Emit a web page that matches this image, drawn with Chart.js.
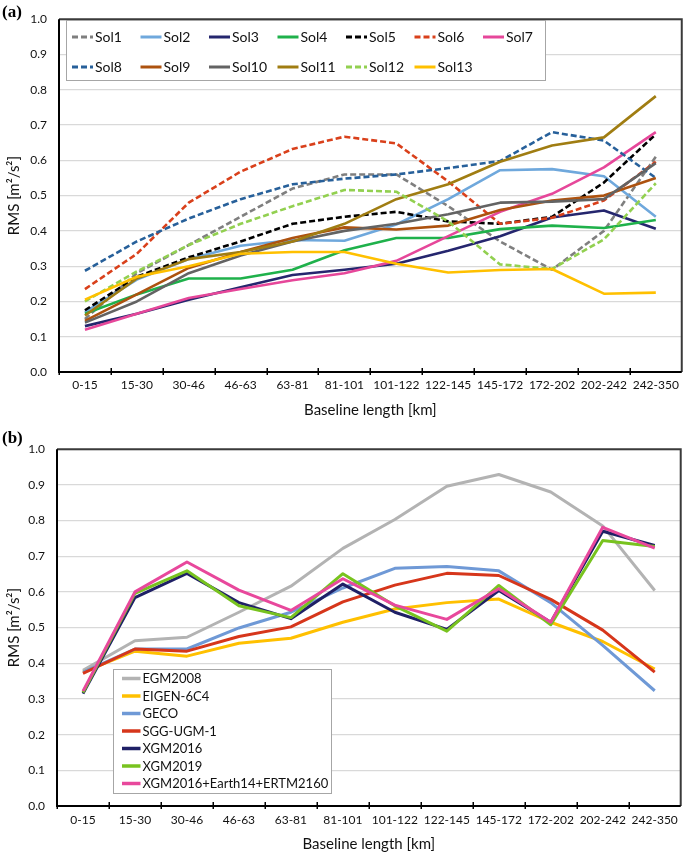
<!DOCTYPE html>
<html><head><meta charset="utf-8">
<script src="https://cdn.jsdelivr.net/npm/chart.js@4.4.1/dist/chart.umd.min.js"></script>
<style>
html,body{margin:0;padding:0;background:#fff;width:685px;height:852px;overflow:hidden;}
.wrap{position:absolute;left:0;width:685px;}
#w1{top:0;height:430px}
#w2{top:430px;height:422px}
.tag{position:absolute;font:bold 17px "Liberation Serif","Times New Roman",serif;color:#000;}
</style></head><body>
<div class="wrap" id="w1"><canvas id="c1" width="685" height="430"></canvas></div>
<div class="wrap" id="w2"><canvas id="c2" width="685" height="422"></canvas></div>
<div class="tag" style="left:2px;top:2px">(a)</div>
<div class="tag" style="left:2px;top:428px">(b)</div>
<script>
// ---- data ----
const baselineBins = ['0-15','15-30','30-46','46-63','63-81','81-101','101-122','122-145','145-172','172-202','202-242','242-350'];
const yTickValues = [0,0.1,0.2,0.3,0.4,0.5,0.6,0.7,0.8,0.9,1.0];
const xTitle = 'Baseline length [km]';
const yTitle = 'RMS [m\u00b2/s\u00b2]';

// panel (a)
const solNames = ['Sol1','Sol2','Sol3','Sol4','Sol5','Sol6','Sol7','Sol8','Sol9','Sol10','Sol11','Sol12','Sol13'];
const sol1  = [0.150, 0.280, 0.360, 0.440, 0.520, 0.560, 0.560, 0.470, 0.370, 0.290, 0.400, 0.610];
const sol2  = [0.170, 0.262, 0.320, 0.358, 0.374, 0.372, 0.418, 0.490, 0.572, 0.575, 0.555, 0.440];
const sol3  = [0.130, 0.165, 0.205, 0.240, 0.275, 0.290, 0.307, 0.344, 0.385, 0.438, 0.458, 0.406];
const sol4  = [0.165, 0.220, 0.265, 0.265, 0.290, 0.345, 0.380, 0.380, 0.405, 0.415, 0.408, 0.431];
const sol5  = [0.175, 0.270, 0.325, 0.370, 0.420, 0.440, 0.454, 0.427, 0.420, 0.440, 0.537, 0.674];
const sol6  = [0.235, 0.335, 0.480, 0.568, 0.632, 0.667, 0.648, 0.540, 0.420, 0.437, 0.486, 0.596];
const sol7  = [0.120, 0.165, 0.210, 0.235, 0.260, 0.280, 0.315, 0.385, 0.454, 0.505, 0.580, 0.680];
const sol8  = [0.287, 0.370, 0.435, 0.490, 0.532, 0.548, 0.560, 0.578, 0.598, 0.680, 0.656, 0.550];
const sol9  = [0.145, 0.220, 0.295, 0.340, 0.380, 0.410, 0.404, 0.415, 0.459, 0.486, 0.500, 0.550];
const sol10 = [0.140, 0.200, 0.280, 0.330, 0.370, 0.400, 0.420, 0.447, 0.480, 0.483, 0.490, 0.592];
const sol11 = [0.160, 0.265, 0.320, 0.340, 0.370, 0.420, 0.490, 0.532, 0.596, 0.642, 0.665, 0.782];
const sol12 = [0.200, 0.285, 0.360, 0.420, 0.470, 0.516, 0.511, 0.427, 0.305, 0.292, 0.376, 0.535];
const sol13 = [0.205, 0.270, 0.300, 0.335, 0.340, 0.340, 0.307, 0.282, 0.289, 0.292, 0.222, 0.225];

// panel (b)
const modelNames = ['EGM2008','EIGEN-6C4','GECO','SGG-UGM-1','XGM2016','XGM2019','XGM2016+Earth14+ERTM2160'];
const egm2008  = [0.380, 0.463, 0.473, 0.543, 0.616, 0.722, 0.803, 0.896, 0.929, 0.880, 0.785, 0.604];
const eigen6c4 = [0.375, 0.434, 0.420, 0.456, 0.470, 0.515, 0.552, 0.570, 0.580, 0.515, 0.461, 0.384];
const geco     = [0.375, 0.440, 0.440, 0.499, 0.543, 0.611, 0.666, 0.671, 0.659, 0.570, 0.450, 0.323];
const sggUgm1  = [0.372, 0.440, 0.434, 0.475, 0.502, 0.572, 0.619, 0.652, 0.646, 0.579, 0.493, 0.375];
const xgm2016  = [0.315, 0.584, 0.652, 0.570, 0.525, 0.622, 0.543, 0.495, 0.604, 0.515, 0.770, 0.730];
const xgm2019  = [0.318, 0.596, 0.659, 0.561, 0.528, 0.651, 0.561, 0.490, 0.618, 0.508, 0.744, 0.727];
const xgmEarth = [0.322, 0.600, 0.684, 0.605, 0.548, 0.637, 0.563, 0.523, 0.609, 0.515, 0.781, 0.723];

// ---- styles ----
const solValues = [sol1,sol2,sol3,sol4,sol5,sol6,sol7,sol8,sol9,sol10,sol11,sol12,sol13];
const solColors = ['#7f7f7f','#6fa8dc','#25266e','#1fb14b','#000000','#d9401b','#e6479a','#27609a','#ad520f','#636363','#a07d12','#92d050','#ffc000'];
const solDashed = [true,false,false,false,true,true,false,true,false,false,false,true,false];
const modelValues = [egm2008,eigen6c4,geco,sggUgm1,xgm2016,xgm2019,xgmEarth];
const modelColors = ['#b3b3b3','#ffc000','#6f99d6','#d6361b','#1f2066','#78c31f','#e8489c'];

const FONT = 'Lato, "Open Sans", sans-serif';

const frame = {
  id: 'frame',
  afterDraw(chart) {
    const {ctx, chartArea:a} = chart;
    const n = chart.data.labels.length;
    const cw = (a.right - a.left) / n;
    ctx.save();
    ctx.lineCap = 'butt';
    ctx.strokeStyle = '#3a3a3a'; ctx.lineWidth = 2;
    ctx.beginPath();
    ctx.moveTo(a.left, a.top); ctx.lineTo(a.right, a.top); ctx.lineTo(a.right, a.bottom);
    ctx.stroke();
    ctx.strokeStyle = '#000'; ctx.lineWidth = 2;
    ctx.beginPath();
    ctx.moveTo(a.left, a.top); ctx.lineTo(a.left, a.bottom); ctx.lineTo(a.right, a.bottom);
    ctx.stroke();
    ctx.lineWidth = 1.5;
    ctx.beginPath();
    for (let i = 0; i < n; i++) {
      const x = Math.round(a.left + i * cw) + 0.25;
      ctx.moveTo(x, a.bottom - (i === 0 ? 0 : 4));
      ctx.lineTo(x, a.bottom + 3);
    }
    ctx.stroke();
    ctx.restore();
  }
};

const boxLegend = {
  id: 'boxLegend',
  afterDraw(chart, args, o) {
    const ctx = chart.ctx;
    ctx.save();
    ctx.fillStyle = '#fff';
    ctx.fillRect(o.x, o.y, o.w, o.h);
    ctx.strokeStyle = '#a6a6a6'; ctx.lineWidth = 1;
    ctx.strokeRect(o.x + 0.5, o.y + 0.5, o.w, o.h);
    ctx.font = o.font; ctx.textBaseline = 'middle'; ctx.textAlign = 'left';
    chart.data.datasets.forEach((ds, i) => {
      const col = i % o.cols, row = Math.floor(i / o.cols);
      const lx = o.x + o.padX + col * o.colW, ly = o.y + o.padY + row * o.rowH;
      ctx.beginPath();
      ctx.setLineDash(ds.borderDash || []);
      ctx.strokeStyle = ds.borderColor; ctx.lineWidth = o.lw;
      ctx.moveTo(lx, ly); ctx.lineTo(lx + o.lineLen, ly); ctx.stroke();
      ctx.setLineDash([]);
      ctx.fillStyle = '#111';
      ctx.fillText(ds.label, lx + o.lineLen + o.gap, ly + 0.5);
    });
    ctx.restore();
  }
};

function makeOptions(p) {
  return {
    responsive: false,
    animation: false,
    devicePixelRatio: 1,
    layout: { padding: { top: p.top, right: p.right, left: 0, bottom: 0 } },
    plugins: {
      legend: { display: false },
      tooltip: { enabled: false },
      boxLegend: p.legend
    },
    elements: { point: { radius: 0 }, line: { tension: 0, borderJoinStyle: 'round', borderCapStyle: 'butt' } },
    scales: {
      x: {
        type: 'category',
        offset: true,
        grid: { display: false, drawTicks: false },
        border: { display: false },
        ticks: { autoSkip: false, maxRotation: 0, padding: p.xPad, color: '#111', font: { family: FONT, size: 12 } },
        title: { display: true, text: xTitle, color: '#111', font: { family: FONT, size: 15, lineHeight: 1.2 }, padding: { top: 0, bottom: p.titlePad } },
        afterFit(s) { s.height = p.xH; }
      },
      y: {
        min: 0, max: 1,
        afterBuildTicks(s) { s.ticks = yTickValues.map(v => ({ value: v })); },
        grid: { color: '#d9d9d9', lineWidth: 1.2, drawTicks: false },
        border: { display: false },
        ticks: { padding: 12, color: '#111', font: { family: FONT, size: 12 }, callback: v => Number(v).toFixed(1) },
        title: { display: true, text: yTitle, color: '#111', font: { family: FONT, size: 15, lineHeight: 1.2 }, padding: { top: 5, bottom: 0 } },
        afterFit(s) { s.width = p.yW; }
      }
    }
  };
}

const dsA = solNames.map((name, i) => ({
  label: name,
  data: solValues[i],
  borderColor: solColors[i],
  backgroundColor: solColors[i],
  borderWidth: 2.6,
  borderDash: solDashed[i] ? [6, 3] : [],
  fill: false,
  order: solNames.length - i
}));

new Chart(document.getElementById('c1'), {
  type: 'line',
  data: { labels: baselineBins, datasets: dsA },
  options: makeOptions({
    top: 7, right: 2, xH: 58, yW: 59, xPad: 6, titlePad: 11,
    legend: { x: 66, y: 20, w: 479, h: 60, cols: 7, padX: 6, padY: 17, colW: 68.5, rowH: 30, lineLen: 21, gap: 2, lw: 3, font: '14px ' + FONT }
  }),
  plugins: [frame, boxLegend]
});

const dsB = modelNames.map((name, i) => ({
  label: name,
  data: modelValues[i],
  borderColor: modelColors[i],
  backgroundColor: modelColors[i],
  borderWidth: 3,
  fill: false,
  order: modelNames.length - i
}));

new Chart(document.getElementById('c2'), {
  type: 'line',
  data: { labels: baselineBins, datasets: dsB },
  options: makeOptions({
    top: 10, right: 4, xH: 46, yW: 57, xPad: 7, titlePad: -1,
    legend: { x: 113, y: 239, w: 218, h: 124, cols: 1, padX: 9, padY: 9.5, colW: 0, rowH: 17.5, lineLen: 18.5, gap: 2, lw: 3.5, font: '13px ' + FONT }
  }),
  plugins: [frame, boxLegend]
});
</script>
</body></html>
